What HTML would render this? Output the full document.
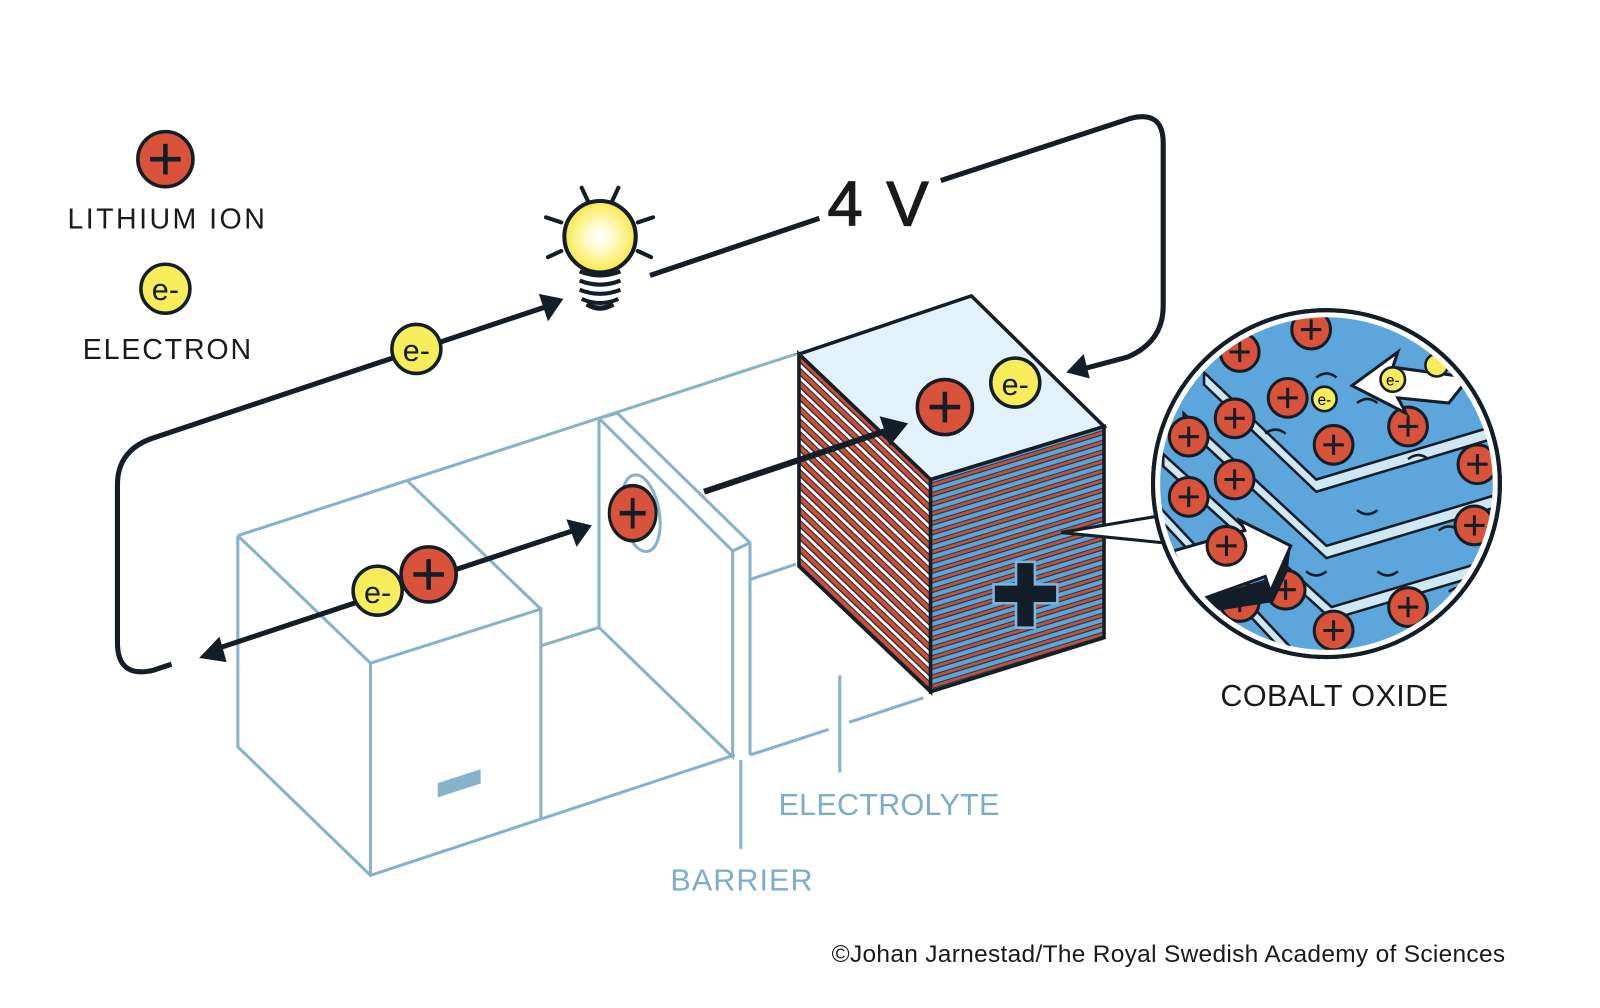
<!DOCTYPE html>
<html><head><meta charset="utf-8"><style>
html,body{margin:0;padding:0;background:#fff;}
svg{display:block;}
text{font-family:"Liberation Sans",sans-serif;}
</style></head><body>
<svg width="1600" height="1008" viewBox="0 0 1568 988" xmlns="http://www.w3.org/2000/svg">
<defs>
<pattern id="stL" patternUnits="userSpaceOnUse" width="9" height="9" patternTransform="rotate(43.6)">
<rect width="9" height="9" fill="#fff"/>
<rect y="0" width="9" height="4.5" fill="#c94f38"/>
<rect y="4" width="9" height="1.2" fill="#1a2630"/>
<rect y="8" width="9" height="1" fill="#1a2630"/>
</pattern>
<pattern id="stR" patternUnits="userSpaceOnUse" width="9" height="9" patternTransform="rotate(-17)">
<rect width="9" height="9" fill="#5ca6dc"/>
<rect y="0" width="9" height="3.2" fill="#b9533f"/>
<rect y="3" width="9" height="1" fill="#1a2630"/>
<rect y="8.2" width="9" height="0.8" fill="#1a2630"/>
</pattern>
<radialGradient id="glow" cx="0.5" cy="0.5" r="0.5">
<stop offset="0" stop-color="#fff"/><stop offset="0.35" stop-color="#fffbd0"/><stop offset="1" stop-color="#f7e84a"/>
</radialGradient>
<clipPath id="inset"><circle cx="1300" cy="474" r="165"/></clipPath>
<g id="ion"><circle r="27" fill="#d9523a" stroke="#141e28" stroke-width="3.5"/><path d="M-15,0H15M0,-15V15" stroke="#141e28" stroke-width="4.5"/></g>
<g id="ions"><circle r="19" fill="#d9523a" stroke="#141e28" stroke-width="3"/><path d="M-10,0H10M0,-10V10" stroke="#141e28" stroke-width="3"/></g>
</defs>

<!-- Legend -->
<use href="#ion" x="162" y="156"/>
<text x="66" y="224" font-size="28" fill="#1a1a1a" letter-spacing="2.4">LITHIUM ION</text>
<circle cx="162" cy="283" r="24" fill="#f7ec5a" stroke="#141e28" stroke-width="3.5"/>
<text x="162" y="294" font-size="30" text-anchor="middle" fill="#141e28">e-</text>
<text x="81" y="352" font-size="28" fill="#1a1a1a" letter-spacing="1.8">ELECTRON</text>

<!-- blue battery outlines -->
<g stroke="#86b2cc" stroke-width="3" fill="none">
<path d="M233,525 L780,347"/>
<path d="M233,525 L233,732 L363,858 L720,740"/>
<path d="M233,525 L363,650 L363,858"/>
<path d="M363,650 L530,597 L530,802"/>
<path d="M400,472 L530,597"/>
<path d="M530,633 L587,615 L587,410 L605,405 L735,532 L735,740"/>
<path d="M587,615 L718,742 L718,540 L735,532"/>
<path d="M587,410 L718,540"/>
<path d="M735,568 L780,553"/>
<path d="M735,740 L812,715"/>
<path d="M832,708 L905,684"/>
<path d="M726,745 L726,832"/>
<path d="M823,662 L823,757"/>
</g>
<rect x="429" y="766" width="42" height="14" fill="#86b2cc" transform="skewY(-18) translate(0,141)"/>
<ellipse cx="628" cy="503" rx="18" ry="38" fill="none" stroke="#86b2cc" stroke-width="3" transform="rotate(-10 628 503)"/>

<!-- circuit wire -->
<g stroke="#141e28" stroke-width="5" fill="none">
<path d="M543,298 L148,430 Q115,442 115,475 L115,630 Q115,665 150,657 L168,651"/>
<path d="M637,270 L803,214"/>
<path d="M922,177 L1108,116 Q1140,108 1140,140 L1140,300 Q1140,335 1105,350 L1060,362"/>
</g>
<path d="M528,288 L552,293 L537,315z" fill="#141e28"/>
<path d="M1045,365 L1062,347 L1068,371z" fill="#141e28"/>
<text x="811" y="221" font-size="62" fill="#1a1a1a" stroke="#1a1a1a" stroke-width="1.2" letter-spacing="3">4 V</text>

<!-- bulb -->
<g stroke="#141e28" stroke-width="4" stroke-linecap="round">
<path d="M570,184 L577,199 M606,184 L599,199 M535,213 L550,218 M640,213 L625,218 M537,252 L550,246 M638,252 L625,246"/>
</g>
<circle cx="588" cy="232" r="35" fill="url(#glow)" stroke="#141e28" stroke-width="4"/>
<g fill="none" stroke="#141e28" stroke-width="4">
<path d="M568,266 Q588,274 608,266 M568,275 Q588,283 608,275 M568,284 Q588,292 608,284 M570,293 Q588,301 606,293"/>
</g>
<path d="M575,298 Q588,306 601,298" stroke="#141e28" stroke-width="5" fill="none"/>
<circle cx="408" cy="342" r="24" fill="#f7ec5a" stroke="#141e28" stroke-width="3.5"/>
<text x="408" y="354" font-size="30" text-anchor="middle" fill="#141e28">e-</text>

<!-- lower arrow -->
<path d="M212,636 L562,520" stroke="#141e28" stroke-width="5"/>
<path d="M195,645 L215,624 L222,649z" fill="#141e28"/>
<path d="M580,515 L555,509 L565,536z" fill="#141e28"/>
<circle cx="370" cy="579" r="24" fill="#f7ec5a" stroke="#141e28" stroke-width="3.5"/>
<text x="370" y="591" font-size="30" text-anchor="middle" fill="#141e28">e-</text>
<use href="#ion" x="420" y="563"/>
<g transform="translate(620,503) scale(0.85,1)"><use href="#ion"/></g>

<!-- cube -->
<path d="M783,347 L912,470 L912,678 L783,555z" fill="url(#stL)" stroke="#141e28" stroke-width="3.5"/>
<path d="M912,470 L1082,418 L1082,625 L912,678z" fill="url(#stR)" stroke="#141e28" stroke-width="3.5"/>
<path d="M783,347 L952,290 L1082,418 L912,470z" fill="#e3f2fa" stroke="#141e28" stroke-width="3.5"/>
<path d="M997,552 h16 v22 h22 v16 h-22 v24 h-16 v-24 h-22 v-16 h22z" fill="#141e28" stroke="#7ab6df" stroke-width="5" paint-order="stroke"/>
<path d="M690,482 L872,421" stroke="#141e28" stroke-width="6"/>
<path d="M890,415 L862,408 L872,437z" fill="#141e28"/>
<use href="#ion" x="926" y="399"/>
<circle cx="995" cy="375" r="24" fill="#f7ec5a" stroke="#141e28" stroke-width="3.5"/>
<text x="995" y="387" font-size="30" text-anchor="middle" fill="#141e28">e-</text>

<!-- pointer -->
<path d="M1040,522 L1140,505 L1140,532z" fill="#fff" stroke="#141e28" stroke-width="3"/>

<!-- inset -->
<circle cx="1300" cy="474" r="170" fill="#fff" stroke="#141e28" stroke-width="4"/>
<g clip-path="url(#inset)">
<rect x="1120" y="300" width="360" height="360" fill="#5ca6dc"/>
<g stroke="#141e28" stroke-width="2.5">
<path d="M1180,365 L1290,470 L1490,410 L1490,422 L1290,482 L1180,377z" fill="#cfe6f3"/>
<path d="M1160,405 L1300,535 L1490,478 L1490,490 L1300,547 L1160,417z" fill="#cfe6f3"/>
<path d="M1140,445 L1305,595 L1490,540 L1490,552 L1305,607 L1140,457z" fill="#cfe6f3"/>
<path d="M1130,490 L1270,640 L1270,652 L1130,502z" fill="#cfe6f3"/>
</g>
<g fill="none" stroke="#141e28" stroke-width="2.5">
<path d="M1290,370 q10,-8 20,0 M1330,395 q10,-8 20,0 M1240,425 q10,-8 20,0 M1380,450 q10,-8 20,0 M1330,500 q10,8 20,0 M1410,520 q10,-8 20,0 M1350,560 q10,8 20,0 M1420,580 q10,-8 20,0 M1280,560 q10,8 20,0 M1200,470 q10,8 20,0"/>
</g>
<use href="#ions" x="1285" y="323"/><use href="#ions" x="1215" y="345"/>
<use href="#ions" x="1262" y="390"/><use href="#ions" x="1307" y="436"/>
<use href="#ions" x="1380" y="418"/><use href="#ions" x="1448" y="455"/>
<use href="#ions" x="1210" y="410"/><use href="#ions" x="1165" y="428"/>
<use href="#ions" x="1210" y="470"/><use href="#ions" x="1165" y="487"/>
<use href="#ions" x="1445" y="515"/><use href="#ions" x="1260" y="578"/>
<use href="#ions" x="1307" y="618"/><use href="#ions" x="1380" y="595"/>
<use href="#ions" x="1215" y="590"/>
<circle cx="1298" cy="391" r="12" fill="#f7ec5a" stroke="#141e28" stroke-width="2.5"/>
<text x="1298" y="397" font-size="15" text-anchor="middle">e-</text>
<path d="M1325,378 L1370,345 L1365,360 L1440,370 L1420,395 L1370,390 L1378,405z" fill="#fff" stroke="#141e28" stroke-width="3"/>
<circle cx="1365" cy="372" r="12" fill="#f7ec5a" stroke="#141e28" stroke-width="2.5"/>
<text x="1365" y="378" font-size="15" text-anchor="middle">e-</text>
<circle cx="1408" cy="358" r="11" fill="#f7ec5a" stroke="#141e28" stroke-width="2.5"/>
<path d="M1150,540 L1220,520 L1215,510 L1265,535 L1245,580 L1240,565 L1170,590z" fill="#fff" stroke="#141e28" stroke-width="3"/>
<path d="M1170,590 L1240,568 L1245,580 L1265,535 L1262,560 L1248,590 L1172,602z" fill="#141e28"/>
<use href="#ions" x="1202" y="535"/>
</g>
<circle cx="1300" cy="474" r="170" fill="none" stroke="#141e28" stroke-width="4"/>
<circle cx="1300" cy="474" r="165" fill="none" stroke="#fff" stroke-width="4"/>

<!-- labels -->
<text x="1196" y="692" font-size="30" fill="#1a1a1a" letter-spacing="0.4">COBALT OXIDE</text>
<text x="763" y="799" font-size="30" fill="#7aaccc" letter-spacing="0.2">ELECTROLYTE</text>
<text x="657" y="873" font-size="30" fill="#7aaccc" letter-spacing="1">BARRIER</text>
<text x="815" y="943" font-size="24" fill="#1a1a1a" letter-spacing="0.3">©Johan Jarnestad/The Royal Swedish Academy of Sciences</text>
</svg>
</body></html>
